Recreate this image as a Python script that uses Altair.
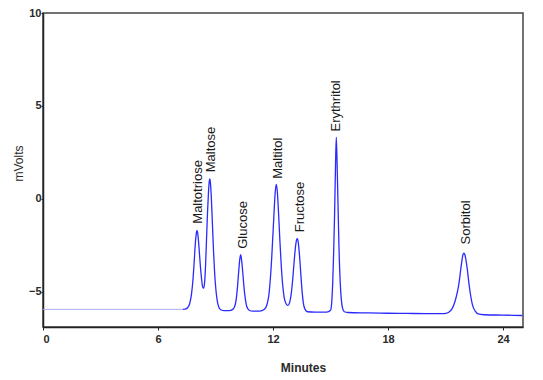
import altair as alt
import pandas as pd

# Flat baseline before injection response (faint line)
pre_t = [0.0, 7.30]
pre_v = [-5.95, -5.95]

# Chromatogram trace (minutes, mV)
trace_t = [7.30, 7.45, 7.55, 7.65, 7.75, 7.82, 7.88, 7.94, 8.00, 8.03, 8.07, 8.13, 8.20, 8.27, 8.33, 8.38,
           8.43, 8.48, 8.53, 8.58, 8.63, 8.67, 8.70, 8.73, 8.78, 8.84, 8.90, 8.96, 9.03, 9.10, 9.18, 9.28,
           9.45, 9.70, 9.90, 10.00, 10.08, 10.15, 10.21, 10.26, 10.31, 10.36, 10.42, 10.48, 10.55, 10.63,
           10.75, 10.95, 11.30, 11.55, 11.68, 11.78, 11.86, 11.93, 11.99, 12.05, 12.11, 12.17, 12.23, 12.29,
           12.36, 12.43, 12.50, 12.58, 12.68, 12.78, 12.86, 12.95, 13.03, 13.10, 13.17, 13.23, 13.27, 13.31,
           13.37, 13.44, 13.51, 13.58, 13.67, 13.80, 14.20, 14.80, 15.00, 15.06, 15.11, 15.16, 15.21, 15.26,
           15.30, 15.34, 15.39, 15.44, 15.50, 15.56, 15.63, 15.72, 15.90, 17.00, 18.00, 19.00, 20.00, 20.90,
           21.15, 21.35, 21.50, 21.62, 21.70, 21.78, 21.85, 21.91, 21.96, 22.00, 22.05, 22.13, 22.22, 22.30,
           22.40, 22.55, 22.70, 23.00, 24.00, 25.00]
trace_v = [-5.95, -5.93, -5.85, -5.65, -5.10, -4.40, -3.50, -2.50, -1.85, -1.70, -1.85, -2.50, -3.50, -4.30, -4.75, -4.81,
           -4.50, -3.60, -2.20, -0.80, 0.30, 0.90, 1.07, 0.90, 0.10, -1.40, -2.90, -4.10, -5.00, -5.55, -5.85, -5.97,
           -6.02, -6.02, -5.95, -5.80, -5.40, -4.70, -3.90, -3.30, -3.01, -3.30, -3.95, -4.70, -5.35, -5.80,
           -6.00, -6.05, -6.05, -5.95, -5.70, -5.20, -4.30, -3.20, -2.00, -0.80, 0.30, 0.77, 0.30, -0.80,
           -2.30, -3.60, -4.60, -5.30, -5.65, -5.74, -5.60, -5.10, -4.30, -3.40, -2.60, -2.20, -2.15, -2.30,
           -2.90, -3.90, -4.90, -5.60, -5.95, -6.08, -6.10, -6.10, -6.00, -5.60, -4.60, -3.00, -0.90, 1.80,
           3.31, 2.00, -0.30, -2.60, -4.40, -5.40, -5.90, -6.08, -6.12, -6.14, -6.16, -6.17, -6.18, -6.18,
           -6.12, -5.90, -5.50, -5.00, -4.55, -3.90, -3.35, -3.00, -2.92, -2.98, -3.20, -3.75, -4.55, -5.15,
           -5.70, -6.05, -6.20, -6.24, -6.26, -6.28]

# Peak labels
peak_names = ["Maltotriose", "Maltose", "Glucose", "Maltitol", "Fructose", "Erythritol", "Sorbitol"]
peak_t = [8.09, 8.78, 10.43, 12.26, 13.39, 15.30, 22.05]
peak_v = [-1.34, 1.43, -2.69, 1.08, -1.80, 3.62, -2.46]

x_ticks = [0, 6, 12, 18, 24]
y_ticks = [-5, 0, 5, 10]

pre_df = pd.DataFrame({"t": pre_t, "v": pre_v})
trace_df = pd.DataFrame({"t": trace_t, "v": trace_v})
lab_df = pd.DataFrame({"name": peak_names, "t": peak_t, "v": peak_v})

xs = alt.Scale(domain=[0, 25.04], nice=False, zero=False)
ys = alt.Scale(domain=[-6.9, 10], nice=False, zero=False)

xax = alt.Axis(values=x_ticks, title="Minutes", grid=False, tickSize=3, labelPadding=3,
               labelFont="Liberation Sans", labelFontSize=11, labelFontWeight="bold", labelColor="#2a2a2a",
               titleFont="Liberation Sans", titleFontSize=12, titleFontWeight="bold", titleColor="#2a2a2a",
               titleX=260, titleY=40, titleBaseline="middle",
               domainColor="#222", domainWidth=1.5, tickColor="#222")
yax = alt.Axis(values=y_ticks, title="mVolts", grid=False, tickSize=2, labelPadding=0,
               labelFont="Liberation Sans", labelFontSize=11, labelFontWeight="bold", labelColor="#2a2a2a",
               titleFont="Liberation Sans", titleFontSize=12, titleFontWeight="normal", titleColor="#2a2a2a",
               titleX=-25, titleY=150, titleBaseline="middle",
               domainColor="#222", domainWidth=1.5, tickColor="#222")

pre = alt.Chart(pre_df).mark_line(color="#a8aef6", strokeWidth=1).encode(
    x=alt.X("t:Q", scale=xs, axis=xax), y=alt.Y("v:Q", scale=ys, axis=yax))

line = alt.Chart(trace_df).mark_line(color="#2a2aff", strokeWidth=1.3, interpolate="monotone").encode(
    x=alt.X("t:Q", scale=xs), y=alt.Y("v:Q", scale=ys))

labels = alt.Chart(lab_df).mark_text(angle=270, align="left", baseline="middle", font="Liberation Sans",
                                     fontSize=13, color="#1a1a1a").encode(
    x=alt.X("t:Q", scale=xs), y=alt.Y("v:Q", scale=ys), text="name:N")

chart = (pre + line + labels).properties(
    width=480, height=314, autosize="none",
    padding={"left": 35, "top": 5, "right": 12, "bottom": 52},
).configure_view(stroke="#444", strokeWidth=1.5)

chart.save("out.html", embed_options={"renderer": "svg", "actions": False})
